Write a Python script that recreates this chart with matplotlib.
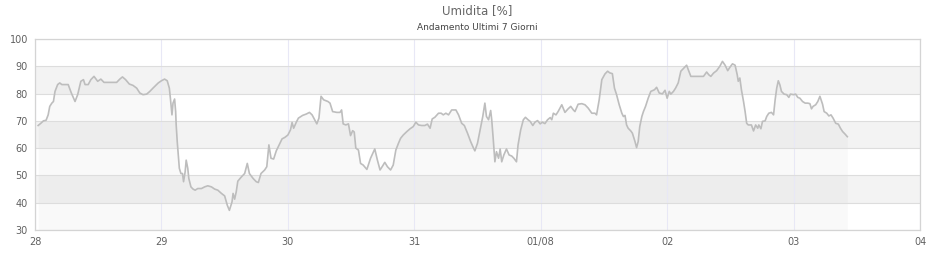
import matplotlib
matplotlib.use('Agg')
import matplotlib.pyplot as plt

# ore dal 28 alle 00:00
hours = [
    0.6, 1.1, 1.6, 2.1, 2.5, 2.8, 3.2, 3.5, 3.8, 4.3, 4.7, 5.1, 6.3, 6.9, 7.6, 8.1,
    8.7, 9.2, 9.5, 10.1, 10.6, 11.2, 11.9, 12.5, 13.1, 13.9, 15.5, 16.1, 16.6, 17.2,
    17.9, 18.6, 19.3, 19.9, 20.5, 21.2, 21.8, 22.4, 23.4, 24.0, 24.6, 25.1, 25.5,
    25.7, 26.0, 26.2, 26.5, 26.7, 26.8, 27.0, 27.2, 27.4, 27.7, 28.0, 28.2, 28.5,
    28.7, 29.0, 29.2, 29.6, 30.0, 30.4, 30.9, 31.6, 32.2, 32.8, 33.5, 34.1, 34.7,
    35.4, 36.0, 36.5, 36.9, 37.4, 37.6, 37.9, 38.2, 38.5, 39.2, 39.8, 40.3, 40.7,
    41.4, 42.0, 42.4, 42.9, 43.6, 44.0, 44.4, 44.8, 45.3, 45.8, 46.4, 46.9, 47.4,
    48.0, 48.5, 48.8, 49.1, 49.6, 50.0, 50.8, 51.5, 52.1, 52.6, 53.1, 53.5, 53.9,
    54.3, 54.8, 55.6,
    56.0, 56.5, 57.3, 57.9, 58.2, 58.5, 59.0, 59.5, 59.9, 60.3, 60.6, 60.9, 61.4,
    61.8, 62.3, 63.0, 63.7, 64.5, 65.0, 65.5, 66.0, 66.4, 66.9, 67.5, 68.0, 68.5,
    69.0, 69.4, 69.9, 70.6, 71.2, 71.8, 72.3, 72.8, 73.4, 74.0, 74.5, 75.0, 75.4,
    75.9, 76.6, 77.1, 77.5, 78.0, 78.5, 79.1, 79.9, 80.4, 81.0, 81.5, 82.1, 82.7,
    83.2, 83.5, 84.0, 84.5, 85.0, 85.4, 85.7, 86.1, 86.5, 86.7, 87.0, 87.3, 87.6,
    88.0, 88.3, 88.6, 89.0, 89.5, 90.0, 90.5, 90.9, 91.4, 91.7, 92.2, 92.7, 93.1,
    93.6, 94.0, 94.5, 94.9, 95.4, 95.9, 96.3, 96.8, 97.3, 97.8, 98.1, 98.4, 98.9,
    99.3, 100.0, 100.6, 101.2, 101.7, 102.2, 102.5, 103.1, 103.8, 104.4, 105.0,
    105.7, 106.3, 106.6, 107.1, 107.6, 108.2, 108.7, 109.1, 109.6, 110.0, 110.4,
    110.9, 111.4, 111.7, 112.0,
    112.3, 112.6, 113.1, 113.4, 113.9, 114.2, 114.5, 114.8, 115.2, 115.5, 115.9,
    116.4, 116.9, 117.6, 118.0, 118.5, 119.1, 119.6, 120.0, 120.4, 120.7, 121.2,
    121.6, 122.1, 122.6, 123.2, 123.7, 124.0, 124.5, 125.3, 126.9, 127.5, 127.9,
    128.3, 128.8, 129.4, 130.0, 130.5, 131.0, 131.5, 131.9, 132.4, 132.9, 133.3,
    133.5, 133.8, 134.1, 134.5, 134.8, 135.1, 135.4, 136.0, 136.4, 136.8, 137.2,
    137.4, 137.8, 138.1, 138.6, 138.9, 139.3, 139.8, 140.2, 140.5, 140.8, 141.1,
    141.4, 141.7, 142.2, 142.7, 143.1, 143.4, 144.0, 144.4, 144.8, 145.2, 145.7,
    146.2, 146.7, 147.1, 147.4, 147.7, 148.2, 148.6, 149.0, 149.5, 149.8, 150.3,
    150.7, 151.1, 151.5, 152.0, 152.5, 152.9, 153.3, 153.8, 154.2,
]

umidita = [
    68.3, 69.1, 70.0, 70.2, 72.2, 75.3, 76.5, 77.1, 80.8, 83.3, 83.9, 83.3, 83.3, 80.2, 77.1, 79.6,
    84.5, 85.1, 83.3, 83.3, 85.1, 86.3, 84.5, 85.3, 84.1, 84.1, 84.1, 85.3, 86.1, 85.1,
    83.5, 83.0, 82.0, 80.2, 79.6, 79.8, 80.8, 82.0, 83.9, 84.7, 85.3, 84.7, 82.0,
    78.3, 72.2, 76.5, 78.0, 73.4, 68.5, 62.4, 57.5, 52.6, 50.7, 50.7, 47.7, 51.3,
    55.6, 52.6, 48.9, 45.8, 45.0, 44.6, 45.2, 45.2, 45.8, 46.2, 45.8, 45.0, 44.6,
    43.4, 42.5, 39.1, 37.2, 40.3, 43.4, 41.3, 44.0, 47.9, 49.5, 50.7, 54.4, 50.7,
    48.9, 47.7, 47.4, 50.7, 52.0, 53.2, 61.2, 56.3, 56.0, 59.0, 61.4, 63.4, 63.9,
    64.8, 66.7, 69.4, 67.3, 69.5, 71.0, 72.0, 72.5, 73.1, 72.2, 70.4, 68.9, 71.0,
    79.0, 77.7, 77.1,
    76.5, 73.4, 73.1, 73.1, 74.0, 68.9, 68.5, 68.9, 64.6, 66.4, 65.9, 60.0, 59.3,
    54.4, 53.8, 52.2, 56.3, 59.7, 55.6, 52.0, 53.5, 54.8, 53.2, 52.0, 53.8, 59.3,
    61.8, 63.6, 64.8, 66.1, 67.1, 67.9, 69.5, 68.5, 68.3, 68.3, 68.8, 67.3, 70.7,
    71.3, 72.8, 72.8, 72.2, 72.8, 72.2, 74.0, 74.0, 72.2, 69.1, 68.3, 65.5, 62.4,
    60.2, 59.0, 61.8, 66.7, 71.6, 76.5, 71.6, 70.4, 73.8, 70.4, 63.0, 55.0, 58.7,
    56.3, 59.7, 55.0, 57.5, 59.7, 57.5, 57.1, 56.3, 55.0, 61.2, 66.7, 70.4, 71.3,
    70.4, 69.8, 68.3, 69.5, 70.1, 68.9, 69.5, 69.0, 70.4, 71.2, 70.4, 72.8, 72.2,
    73.4, 75.9, 73.1, 74.4, 75.3, 74.0, 73.4, 76.1, 76.3, 75.9, 74.7,
    72.8, 72.8, 72.2, 77.7, 85.1, 87.2, 88.2, 87.6, 87.3, 82.0, 79.6,
    75.9, 72.8, 71.6, 72.0,
    68.5, 67.3, 66.3, 65.5, 62.4, 60.2, 62.4, 67.9, 71.6, 73.4, 75.3,
    78.3, 80.8, 81.4, 82.3, 80.2, 79.9, 81.2, 78.3, 80.8, 79.8, 80.8,
    82.0, 83.9, 88.2, 89.4, 90.4, 88.8, 86.3, 86.3, 86.3, 87.9, 86.9,
    86.3, 87.5, 88.4, 90.0, 91.8, 90.4, 88.4, 89.6, 90.9, 90.4, 86.9,
    84.5, 85.7, 81.4, 77.1, 73.4, 69.1, 68.5, 68.5, 66.3, 68.5, 67.3,
    68.5, 67.1, 69.8, 70.0, 71.6, 72.8, 73.1, 72.2, 77.7, 82.0, 84.7,
    83.2, 80.8, 79.8, 79.6, 78.6, 79.8, 79.6, 79.8, 78.6, 78.3, 77.1,
    76.5, 76.5, 76.3, 74.4, 75.3, 75.9, 77.1, 79.0, 76.1, 73.4, 72.8,
    71.8, 72.2, 71.0, 69.1, 68.8, 67.3, 66.1, 65.1, 64.2,
]

day_labels = ['28', '29', '30', '31', '01/08', '02', '03', '04']
day_ticks = [24 * i for i in range(len(day_labels))]
y_ticks = [30, 40, 50, 60, 70, 80, 90, 100]
bands = [(40, 50), (60, 70), (80, 90)]

fig = plt.figure(figsize=(9.4, 2.6), dpi=100)
ax = fig.add_axes([35 / 940, 30 / 260, 885 / 940, 191 / 260])

# fasce grigie
for lo, hi in bands:
    ax.axhspan(lo, hi, color='#f3f3f3', lw=0, zorder=0)

ax.fill_between(hours, umidita, 30, color='black', alpha=0.025, lw=0, zorder=1)
ax.plot(hours, umidita, color='#bdbdbd', lw=1.2, zorder=3)

ax.set_xlim(0, 168)
ax.set_ylim(30, 100)
ax.set_xticks(day_ticks)
ax.set_xticklabels(day_labels)
ax.set_yticks(y_ticks)

ax.grid(axis='y', color='#dddddd', lw=0.8, zorder=2)
ax.grid(axis='x', color='#e8e8f6', lw=0.8, zorder=2)
ax.set_axisbelow(False)
for s in ax.spines.values():
    s.set_color('#d4d4d4')
    s.set_linewidth(0.9)
    s.set_zorder(4)
ax.tick_params(length=0, labelsize=7, colors='#606060', pad=5)

fig.text(477.5 / 940, 1 - 11 / 260, 'Umidita [%]', ha='center', va='center',
         fontsize=8.5, color='#666666')
fig.text(477.5 / 940, 1 - 27 / 260, 'Andamento Ultimi 7 Giorni', ha='center',
         va='center', fontsize=6.5, color='#444444')

fig.savefig('out.png', dpi=100)
